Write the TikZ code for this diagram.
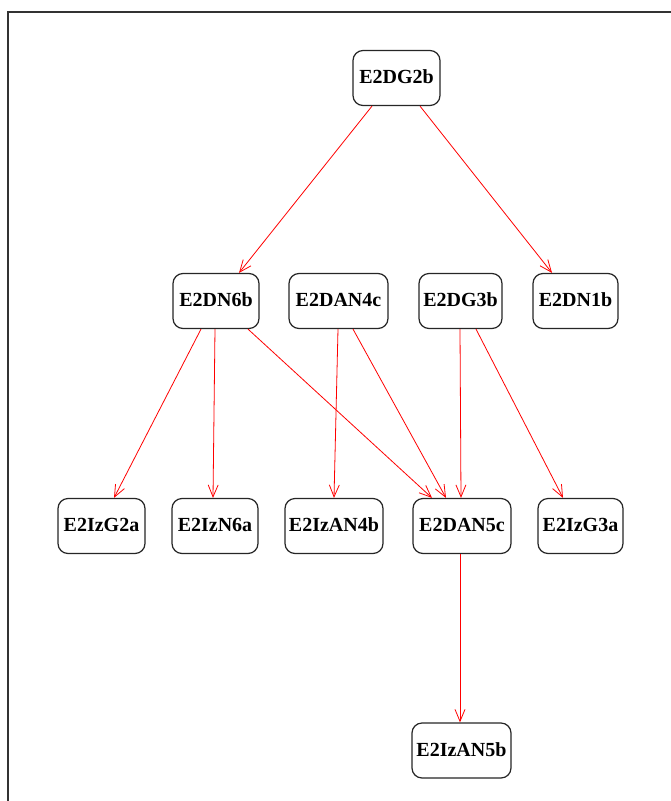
\documentclass[tikz,border=0pt]{standalone}
\usepackage{fontspec}
\setmainfont{Liberation Serif}
\usetikzlibrary{arrows.meta}
\newcommand{\statetext}[1]{\raisebox{2pt}{#1}}
\tikzset{
  state/.style={draw=black!85, line width=1.2pt, rounded corners=10pt,
    minimum height=55pt, inner sep=0pt, fill=white,
    font=\fontsize{20}{20}\selectfont\bfseries},
  edge/.style={draw=red, line width=0.8pt,
    -{Straight Barb[length=12pt,width=10pt,line width=0.8pt]}},
  frameline/.style={draw=black!80, line width=2pt}
}
\begin{document}
\begin{tikzpicture}[x=1pt,y=-1pt]
  \useasboundingbox (0,0) rectangle (671,801);
  % window frame: top and left edges only
  \coordinate (ftl) at (7.5,11.5);
  \coordinate (ftr) at (671,11.5);
  \coordinate (fbl) at (7.5,801);
  \draw[frameline] (ftr) -- (ftl) -- (fbl);

  % top level
  \node[state, minimum width=87pt] (g2b) at (396.5,78) {\statetext{E2DG2b}};
  % second level
  \node[state, minimum width=86pt] (n6b)  at (216,301)   {\statetext{E2DN6b}};
  \node[state, minimum width=99pt] (an4c) at (338.5,301) {\statetext{E2DAN4c}};
  \node[state, minimum width=83pt] (g3b)  at (460.5,301) {\statetext{E2DG3b}};
  \node[state, minimum width=85pt] (n1b)  at (575.5,301) {\statetext{E2DN1b}};
  % third level
  \node[state, minimum width=87pt] (izg2a)  at (101.5,526) {\statetext{E2IzG2a}};
  \node[state, minimum width=86pt] (izn6a)  at (215,526)   {\statetext{E2IzN6a}};
  \node[state, minimum width=98pt] (izan4b) at (334,526)   {\statetext{E2IzAN4b}};
  \node[state, minimum width=98pt] (dan5c)  at (462,526)   {\statetext{E2DAN5c}};
  \node[state, minimum width=85pt] (izg3a)  at (580.5,526) {\statetext{E2IzG3a}};
  % bottom level
  \node[state, minimum width=99pt] (izan5b) at (461.5,750.5) {\statetext{E2IzAN5b}};

  % dependencies
  \draw[edge] ([xshift=-24.5pt]g2b.south) -- ([xshift=23pt]n6b.north);
  \draw[edge] ([xshift=23.5pt]g2b.south) -- ([xshift=-23.5pt]n1b.north);
  \draw[edge] ([xshift=-15pt]n6b.south) -- ([xshift=12.5pt]izg2a.north);
  \draw[edge] ([xshift=-1pt]n6b.south) -- ([xshift=-2pt]izn6a.north);
  \draw[edge] ([xshift=32pt]n6b.south) -- ([xshift=-30pt]dan5c.north);
  \draw[edge] ([xshift=-0.5pt]an4c.south) -- (izan4b.north);
  \draw[edge] ([xshift=14.5pt]an4c.south) -- ([xshift=-16pt]dan5c.north);
  \draw[edge] ([xshift=-0.5pt]g3b.south) -- ([xshift=-1pt]dan5c.north);
  \draw[edge] ([xshift=15.5pt]g3b.south) -- ([xshift=-17.5pt]izg3a.north);
  \draw[edge] ([xshift=-2pt]dan5c.south) -- ([xshift=-1.5pt]izan5b.north);
\end{tikzpicture}
\end{document}
